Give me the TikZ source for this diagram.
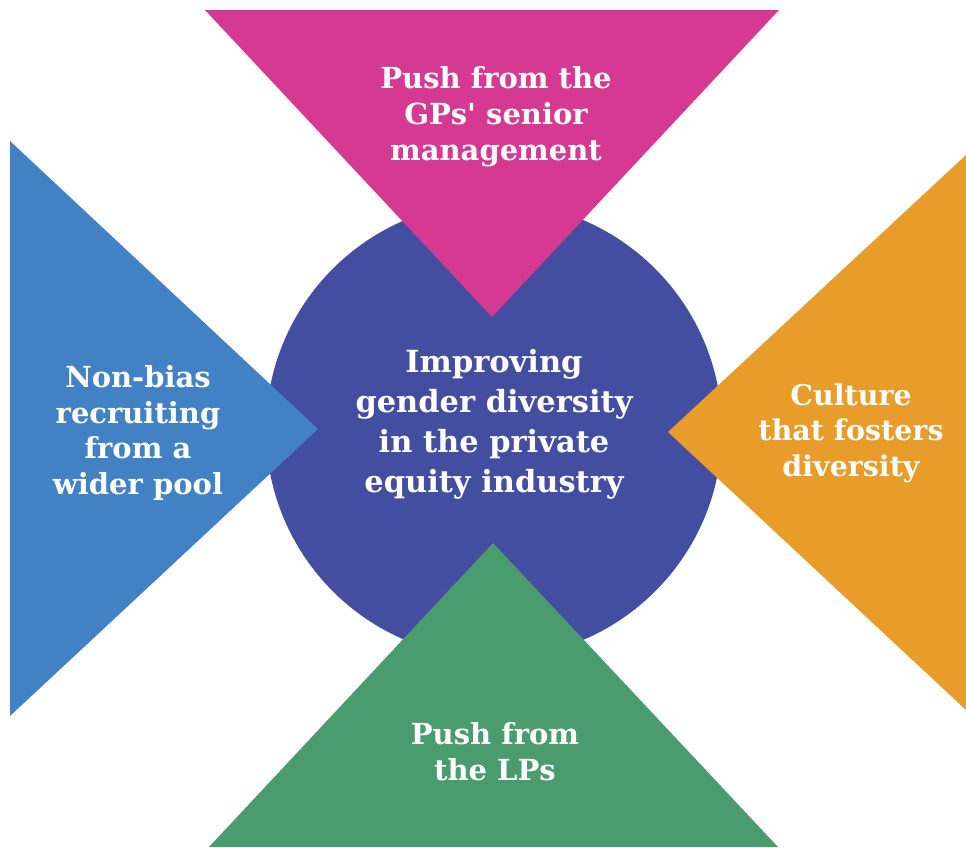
\documentclass[tikz,border=0pt]{standalone}
\usepackage{fontspec}
\setmainfont{DejaVu Serif}[Ligatures=TeXOff]
\definecolor{cmag}{RGB}{214,57,146}
\definecolor{ccirc}{RGB}{67,78,160}
\definecolor{cblue}{RGB}{66,130,196}
\definecolor{corange}{RGB}{232,157,42}
\definecolor{cgreen}{RGB}{74,155,110}
\begin{document}
\begin{tikzpicture}[x=1pt,y=-1pt,
  lbl/.style={text=white,align=center,inner sep=0pt,font=\bfseries\fontsize{29}{36}\selectfont},
  mainlbl/.style={text=white,align=center,inner sep=0pt,font=\bfseries\fontsize{30.5}{40}\selectfont}]
\useasboundingbox (0,0) rectangle (966,847);
\fill[ccirc] (494,430) circle[radius=228];
\fill[cmag] (205,10) -- (779,10) -- (492,317) -- cycle;
\fill[cblue] (10,141) -- (10,716) -- (318,429) -- cycle;
\fill[corange] (966,155) -- (966,710) -- (668,432) -- cycle;
\fill[cgreen] (209,847) -- (778,847) -- (493,543) -- cycle;
\node[mainlbl] (center) at (494,424) {Improving\\gender diversity\\in the private\\equity industry};
\node[lbl] (top) at (496,117) {Push from the\\GPs' senior\\management};
\node[lbl,font=\bfseries\fontsize{29}{35.5}\selectfont] (left) at (138,433) {Non-bias\\recruiting\\from a\\wider pool};
\node[lbl,font=\bfseries\fontsize{28.5}{35.5}\selectfont] (right) at (851,433) {Culture\\that fosters\\diversity};
\node[lbl] (bottom) at (495,752) {Push from\\the LPs};
\end{tikzpicture}
\end{document}
